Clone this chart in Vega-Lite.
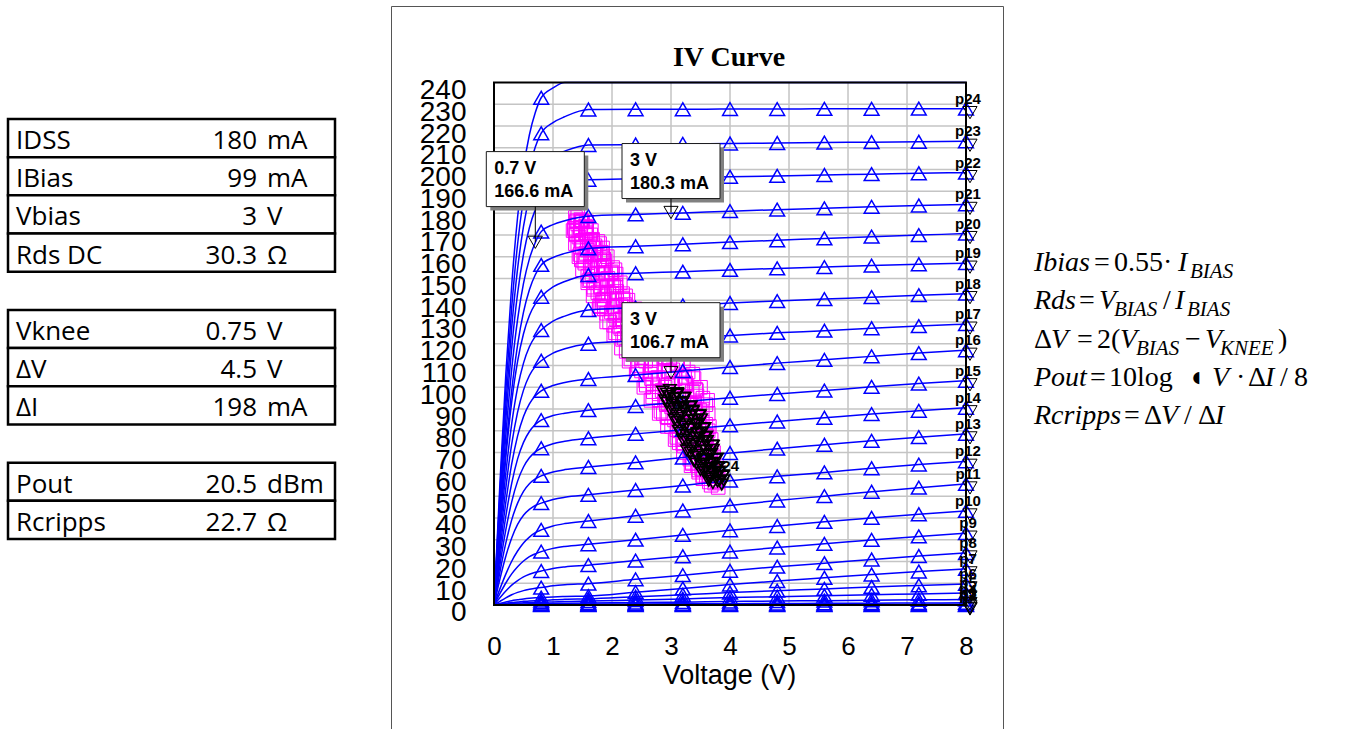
{
"$schema":"https://vega.github.io/schema/vega-lite/v6.json",
"background":"white",
"padding":{"left":0,"top":5,"right":0,"bottom":0},
"spacing":0,
"config":{"view":{"stroke":null},"font":"Liberation Sans","axis":{"labelColor":"black","titleColor":"black","labelFont":"Liberation Sans","titleFont":"Liberation Sans"}},
"datasets":{
"tables":[{"row":0,"label":"IDSS","num":"180","unit":"mA"},{"row":1,"label":"IBias","num":"99","unit":"mA"},{"row":2,"label":"Vbias","num":"3","unit":"V"},{"row":3,"label":"Rds DC","num":"30.3","unit":"Ω"},{"row":5,"label":"Vknee","num":"0.75","unit":"V"},{"row":6,"label":"ΔV","num":"4.5","unit":"V"},{"row":7,"label":"ΔI","num":"198","unit":"mA"},{"row":9,"label":"Pout","num":"20.5","unit":"dBm"},{"row":10,"label":"Rcripps","num":"22.7","unit":"Ω"}],
"gridV":[{"v":1},{"v":2},{"v":3},{"v":4},{"v":5},{"v":6},{"v":7}],
"gridH":[{"i":10},{"i":20},{"i":30},{"i":40},{"i":50},{"i":60},{"i":70},{"i":80},{"i":90},{"i":100},{"i":110},{"i":120},{"i":130},{"i":140},{"i":150},{"i":160},{"i":170},{"i":180},{"i":190},{"i":200},{"i":210},{"i":220},{"i":230}],
"curves":[
{"c":"p25","v":[0,0.1,0.2,0.3,0.4,0.5,0.6,0.7,0.8,1,1.2,1.6,2.4,3.2,4,4.8,5.6,6.4,7.2,8],"i":[0,55.7,105.8,147.0,178.2,200.6,216.0,226.2,233,237.5,240,240,240,240,240,240,240,240,240,240]},
{"c":"p24","v":[0,0.1,0.2,0.3,0.4,0.5,0.6,0.7,0.8,1,1.2,1.6,2.4,3.2,4,4.8,5.6,6.4,7.2,8],"i":[0,51.8,98.4,136.7,165.8,186.6,200.9,210.4,216.7,221.6,224.3,227.6,227.7,227.7,227.8,227.8,227.9,227.9,228.0,228.0]},
{"c":"p23","v":[0,0.1,0.2,0.3,0.4,0.5,0.6,0.7,0.8,1,1.2,1.6,2.4,3.2,4,4.8,5.6,6.4,7.2,8],"i":[0,48.3,91.7,127.5,154.5,173.9,187.3,196.1,202,206.2,208.5,211.3,211.5,211.8,212.0,212.2,212.4,212.6,212.8,213]},
{"c":"p22","v":[0,0.1,0.2,0.3,0.4,0.5,0.6,0.7,0.8,1,1.2,1.6,2.4,3.2,4,4.8,5.6,6.4,7.2,8],"i":[0,44.7,84.9,118.0,143.1,161.0,173.3,181.6,187,190.7,192.8,195.3,195.8,196.2,196.7,197.1,197.5,197.9,198.3,198.6]},
{"c":"p21","v":[0,0.1,0.2,0.3,0.4,0.5,0.6,0.7,0.8,1,1.2,1.6,2.4,3.2,4,4.8,5.6,6.4,7.2,8],"i":[0,41.0,77.9,108.2,131.2,147.7,159.0,166.5,171.5,174.7,176.5,178.6,179.4,180.1,180.9,181.6,182.2,182.9,183.5,184]},
{"c":"p20","v":[0,0.1,0.2,0.3,0.4,0.5,0.6,0.7,0.8,1,1.2,1.6,2.4,3.2,4,4.8,5.6,6.4,7.2,8],"i":[0,37.3,70.9,98.6,119.5,134.5,144.8,151.7,156.2,159.6,161.5,163.8,164.8,165.7,166.7,167.5,168.4,169.2,169.9,170.6]},
{"c":"p19","v":[0,0.1,0.2,0.3,0.4,0.5,0.6,0.7,0.8,1,1.2,1.6,2.4,3.2,4,4.8,5.6,6.4,7.2,8],"i":[0,36.0,67.8,93.3,111.9,124.6,133.0,138.3,141.6,146.1,148.6,151.6,152.4,153.1,153.9,154.6,155.2,155.9,156.5,157]},
{"c":"p18","v":[0,0.1,0.2,0.3,0.4,0.5,0.6,0.7,0.8,1,1.2,1.6,2.4,3.2,4,4.8,5.6,6.4,7.2,8],"i":[0,32.1,60.5,83.2,99.8,111.1,118.6,123.4,126.3,130.4,132.7,135.5,136.6,137.6,138.7,139.6,140.5,141.4,142.3,143]},
{"c":"p17","v":[0,0.1,0.2,0.3,0.4,0.5,0.6,0.7,0.8,1,1.2,1.6,2.4,3.2,4,4.8,5.6,6.4,7.2,8],"i":[0,28.5,53.7,73.9,88.6,98.7,105.4,109.6,112.2,115.7,117.7,120,121.3,122.5,123.8,125.0,126.0,127.1,128.1,129]},
{"c":"p16","v":[0,0.1,0.2,0.3,0.4,0.5,0.6,0.7,0.8,1,1.2,1.6,2.4,3.2,4,4.8,5.6,6.4,7.2,8],"i":[0,25.0,47.1,64.8,77.7,86.6,92.4,96.1,98.4,100.8,102.2,103.8,105.6,107.5,109.3,111.1,112.6,114.2,115.7,117]},
{"c":"p15","v":[0,0.1,0.2,0.3,0.4,0.5,0.6,0.7,0.8,1,1.2,1.6,2.4,3.2,4,4.8,5.6,6.4,7.2,8],"i":[0,21.6,40.7,55.9,67.1,74.7,79.7,82.9,84.9,87.0,88.1,89.5,91.4,93.3,95.2,96.9,98.5,100.2,101.7,103]},
{"c":"p14","v":[0,0.1,0.2,0.3,0.4,0.5,0.6,0.7,0.8,1,1.2,1.6,2.4,3.2,4,4.8,5.6,6.4,7.2,8],"i":[0,18.3,34.5,47.4,56.9,63.4,67.6,70.3,72,74.1,75.2,76.6,78.6,80.5,82.5,84.3,86.0,87.7,89.2,90.6]},
{"c":"p13","v":[0,0.1,0.2,0.3,0.4,0.5,0.6,0.7,0.8,1,1.2,1.6,2.4,3.2,4,4.8,5.6,6.4,7.2,8],"i":[0,15.1,28.4,39.1,46.8,52.2,55.7,57.9,59.3,61.1,62.2,63.4,65.5,67.7,69.8,71.8,73.6,75.4,77.1,78.6]},
{"c":"p12","v":[0,0.1,0.2,0.3,0.4,0.5,0.6,0.7,0.8,1,1.2,1.6,2.4,3.2,4,4.8,5.6,6.4,7.2,8],"i":[0,11.9,22.4,30.8,37.0,41.2,43.9,45.7,46.8,48.5,49.5,50.6,52.8,54.9,57.1,59.1,60.9,62.8,64.5,66]},
{"c":"p11","v":[0,0.1,0.2,0.3,0.4,0.5,0.6,0.7,0.8,1,1.2,1.6,2.4,3.2,4,4.8,5.6,6.4,7.2,8],"i":[0,7.4,14.2,20.1,24.8,28.5,31.2,33.2,34.5,36.3,37.4,38.6,41.0,43.4,45.7,48.0,50.0,52.0,53.9,55.6]},
{"c":"p10","v":[0,0.1,0.2,0.3,0.4,0.5,0.6,0.7,0.8,1,1.2,1.6,2.4,3.2,4,4.8,5.6,6.4,7.2,8],"i":[0,5.2,10.1,14.3,17.6,20.2,22.2,23.5,24.5,26.0,26.9,27.9,30.0,32.2,34.3,36.3,38.2,40.0,41.7,43.2]},
{"c":"p9","v":[0,0.1,0.2,0.3,0.4,0.5,0.6,0.7,0.8,1,1.2,1.6,2.4,3.2,4,4.8,5.6,6.4,7.2,8],"i":[0,3.3,6.4,9.1,11.2,12.9,14.1,15.0,15.6,16.8,17.5,18.3,20.4,22.4,24.5,26.4,28.1,29.9,31.5,33]},
{"c":"p8","v":[0,0.1,0.2,0.3,0.4,0.5,0.6,0.7,0.8,1,1.2,1.6,2.4,3.2,4,4.8,5.6,6.4,7.2,8],"i":[0,1.7,3.3,4.7,5.8,6.6,7.2,7.7,8.0,8.8,9.3,9.8,11.8,13.7,15.7,17.6,19.2,20.9,22.5,23.9]},
{"c":"p7","v":[0,0.1,0.2,0.3,0.4,0.5,0.6,0.7,0.8,1,1.2,1.6,2.4,3.2,4,4.8,5.6,6.4,7.2,8],"i":[0,0.7,1.4,2.0,2.4,2.8,3.1,3.3,3.4,3.7,3.9,4.1,5.9,7.6,9.4,11.0,12.5,14.0,15.4,16.6]},
{"c":"p6","v":[0,0.1,0.2,0.3,0.4,0.5,0.6,0.7,0.8,1,1.2,1.6,2.4,3.2,4,4.8,5.6,6.4,7.2,8],"i":[0,0.4,0.8,1.2,1.4,1.7,1.8,1.9,2.0,2.4,2.6,2.8,3.8,4.7,5.7,6.6,7.4,8.3,9.0,9.7]},
{"c":"p5","v":[0,0.1,0.2,0.3,0.4,0.5,0.6,0.7,0.8,1,1.2,1.6,2.4,3.2,4,4.8,5.6,6.4,7.2,8],"i":[0,0.3,0.5,0.7,0.9,1.0,1.1,1.15,1.2,1.4,1.6,1.8,2.3,2.8,3.4,3.8,4.3,4.7,5.1,5.5]},
{"c":"p4","v":[0,0.1,0.2,0.3,0.4,0.5,0.6,0.7,0.8,1,1.2,1.6,2.4,3.2,4,4.8,5.6,6.4,7.2,8],"i":[0,0.1,0.25,0.35,0.45,0.5,0.55,0.58,0.6,0.7,0.8,0.9,1.1,1.3,1.6,1.8,2.0,2.2,2.4,2.5]},
{"c":"p3","v":[0,0.1,0.2,0.3,0.4,0.5,0.6,0.7,0.8,1,1.2,1.6,2.4,3.2,4,4.8,5.6,6.4,7.2,8],"i":[0,0.06,0.12,0.18,0.22,0.25,0.27,0.29,0.3,0.33,0.36,0.4,0.48,0.55,0.62,0.7,0.78,0.85,0.93,1.0]},
{"c":"p2","v":[0,0.1,0.2,0.3,0.4,0.5,0.6,0.7,0.8,1,1.2,1.6,2.4,3.2,4,4.8,5.6,6.4,7.2,8],"i":[0,0.02,0.04,0.06,0.07,0.08,0.09,0.1,0.1,0.11,0.12,0.13,0.15,0.17,0.19,0.21,0.23,0.25,0.28,0.3]},
{"c":"p1","v":[0,0.1,0.2,0.3,0.4,0.5,0.6,0.7,0.8,1,1.2,1.6,2.4,3.2,4,4.8,5.6,6.4,7.2,8],"i":[0,0,0,0,0,0,0,0,0,0,0,0,0,0,0,0,0,0,0,0]}
],
"mag":[
{"v":1.38,"i":178},{"v":1.42,"i":179},{"v":1.47,"i":177},
{"v":1.42,"i":175},{"v":1.50,"i":176},{"v":1.55,"i":174},
{"v":1.37,"i":172},{"v":1.47,"i":173},{"v":1.56,"i":171},
{"v":1.44,"i":169},{"v":1.56,"i":170},{"v":1.67,"i":168},
{"v":1.42,"i":166},{"v":1.58,"i":167},{"v":1.71,"i":165},
{"v":1.58,"i":163},{"v":1.73,"i":164},{"v":1.82,"i":162},
{"v":1.54,"i":160},{"v":1.72,"i":161},{"v":1.86,"i":159},
{"v":1.54,"i":157},{"v":1.71,"i":158},{"v":1.87,"i":156},
{"v":1.67,"i":154},{"v":1.86,"i":155},{"v":1.99,"i":153},
{"v":1.59,"i":151},{"v":1.76,"i":152},{"v":1.93,"i":150},
{"v":1.73,"i":148},{"v":1.90,"i":149},{"v":2.06,"i":147},
{"v":1.69,"i":145},{"v":1.91,"i":146},{"v":2.08,"i":144},
{"v":1.88,"i":142},{"v":2.08,"i":143},{"v":2.18,"i":141},
{"v":1.84,"i":139},{"v":2.05,"i":140},{"v":2.22,"i":138},
{"v":1.87,"i":136},{"v":2.06,"i":137},{"v":2.25,"i":135},
{"v":2.05,"i":133},{"v":2.27,"i":134},{"v":2.43,"i":132},
{"v":1.96,"i":130},{"v":2.18,"i":131},{"v":2.40,"i":129},
{"v":2.15,"i":127},{"v":2.38,"i":128},{"v":2.60,"i":126},
{"v":2.11,"i":124},{"v":2.42,"i":125},{"v":2.66,"i":123},
{"v":2.40,"i":121},{"v":2.69,"i":122},{"v":2.84,"i":120},
{"v":2.33,"i":118},{"v":2.65,"i":119},{"v":2.90,"i":117},
{"v":2.35,"i":115},{"v":2.63,"i":116},{"v":2.91,"i":114},
{"v":2.57,"i":112},{"v":2.88,"i":113},{"v":3.11,"i":111},
{"v":2.43,"i":109},{"v":2.73,"i":110},{"v":3.03,"i":108},
{"v":2.65,"i":106},{"v":2.95,"i":107},{"v":3.23,"i":105},
{"v":2.57,"i":103},{"v":2.95,"i":104},{"v":3.25,"i":102},
{"v":2.90,"i":100},{"v":3.24,"i":101},{"v":3.42,"i":99},
{"v":2.80,"i":97},{"v":3.16,"i":98},{"v":3.44,"i":96},
{"v":2.80,"i":94},{"v":3.10,"i":95},{"v":3.40,"i":93},
{"v":3.01,"i":91},{"v":3.31,"i":92},{"v":3.53,"i":90},
{"v":2.87,"i":88},{"v":3.13,"i":89},{"v":3.39,"i":87},
{"v":3.06,"i":85},{"v":3.30,"i":86},{"v":3.53,"i":84},
{"v":3.01,"i":82},{"v":3.29,"i":83},{"v":3.51,"i":81},
{"v":3.25,"i":79},{"v":3.48,"i":80},{"v":3.60,"i":78},
{"v":3.20,"i":76},{"v":3.43,"i":77},{"v":3.60,"i":75},
{"v":3.22,"i":73},{"v":3.40,"i":74},{"v":3.57,"i":72},
{"v":3.37,"i":70},{"v":3.54,"i":71},{"v":3.67,"i":69},
{"v":3.32,"i":67},{"v":3.46,"i":68},{"v":3.61,"i":66},
{"v":3.45,"i":64},{"v":3.58,"i":65},{"v":3.70,"i":63},
{"v":3.47,"i":61},{"v":3.61,"i":62},{"v":3.72,"i":60},
{"v":3.64,"i":58},{"v":3.73,"i":59},{"v":3.78,"i":57},
{"v":3.68,"i":55},{"v":3.74,"i":56},{"v":3.80,"i":54},
{"v":1.40,"i":176.5},{"v":1.48,"i":176.5},{"v":1.46,"i":173.5},{"v":1.57,"i":173.5},
{"v":1.39,"i":170.5},{"v":1.55,"i":170.5},{"v":1.50,"i":167.5},{"v":1.67,"i":167.5},
{"v":1.62,"i":164.5},{"v":1.47,"i":164.5},{"v":1.56,"i":161.5},{"v":1.84,"i":161.5},
{"v":1.48,"i":158.5},{"v":1.79,"i":158.5},{"v":1.63,"i":155.5},{"v":1.85,"i":155.5},
{"v":1.76,"i":152.5},{"v":1.98,"i":152.5},{"v":1.63,"i":149.5},{"v":1.90,"i":149.5},
{"v":1.80,"i":146.5},{"v":2.03,"i":146.5},{"v":1.94,"i":143.5},{"v":1.76,"i":143.5},
{"v":1.86,"i":140.5},{"v":2.19,"i":140.5},{"v":1.79,"i":137.5},{"v":2.15,"i":137.5},
{"v":1.99,"i":134.5},{"v":2.25,"i":134.5},{"v":2.17,"i":131.5},{"v":2.44,"i":131.5},
{"v":2.03,"i":128.5},{"v":2.37,"i":128.5},{"v":2.27,"i":125.5},{"v":2.58,"i":125.5},
{"v":2.48,"i":122.5},{"v":2.21,"i":122.5},{"v":2.37,"i":119.5},{"v":2.87,"i":119.5},
{"v":2.24,"i":116.5},{"v":2.77,"i":116.5},{"v":2.50,"i":113.5},{"v":2.88,"i":113.5},
{"v":2.73,"i":110.5},{"v":3.10,"i":110.5},{"v":2.50,"i":107.5},{"v":2.96,"i":107.5},
{"v":2.78,"i":104.5},{"v":3.18,"i":104.5},{"v":3.01,"i":101.5},{"v":2.69,"i":101.5},
{"v":2.85,"i":98.5},{"v":3.43,"i":98.5},{"v":2.69,"i":95.5},{"v":3.27,"i":95.5},
{"v":2.95,"i":92.5},{"v":3.33,"i":92.5},{"v":3.14,"i":89.5},{"v":3.49,"i":89.5},
{"v":2.93,"i":86.5},{"v":3.32,"i":86.5},{"v":3.17,"i":83.5},{"v":3.47,"i":83.5},
{"v":3.32,"i":80.5},{"v":3.10,"i":80.5},{"v":3.22,"i":77.5},{"v":3.60,"i":77.5},
{"v":3.14,"i":74.5},{"v":3.49,"i":74.5},{"v":3.32,"i":71.5},{"v":3.54,"i":71.5},
{"v":3.46,"i":68.5},{"v":3.65,"i":68.5},{"v":3.36,"i":65.5},{"v":3.58,"i":65.5},
{"v":3.52,"i":62.5},{"v":3.68,"i":62.5},{"v":3.65,"i":59.5},{"v":3.54,"i":59.5},
{"v":3.65,"i":56.5},{"v":3.79,"i":56.5},
{"v":1.34,"i":172},{"v":1.65,"i":172},{"v":1.38,"i":166},{"v":1.79,"i":166},
{"v":1.44,"i":160},{"v":1.92,"i":160},{"v":1.50,"i":154},{"v":2.05,"i":154},
{"v":1.59,"i":148},{"v":2.14,"i":148},{"v":1.68,"i":142},{"v":2.23,"i":142},
{"v":1.78,"i":136},{"v":2.39,"i":136},{"v":1.91,"i":130},{"v":2.60,"i":130},
{"v":2.03,"i":124},{"v":2.81,"i":124},{"v":2.16,"i":118},{"v":3.01,"i":118},
{"v":2.29,"i":112},{"v":3.21,"i":112},{"v":2.41,"i":106},{"v":3.37,"i":106},
{"v":2.54,"i":100},{"v":3.50,"i":100},{"v":2.66,"i":94},{"v":3.62,"i":94},
{"v":2.80,"i":88},{"v":3.63,"i":88},{"v":2.94,"i":82},{"v":3.65,"i":82},
{"v":3.07,"i":76},{"v":3.68,"i":76},{"v":3.21,"i":70},{"v":3.72,"i":70},
{"v":3.34,"i":64},{"v":3.77,"i":64},{"v":3.54,"i":58},{"v":3.80,"i":58},
{"v":1.40,"i":176},{"v":1.49,"i":176},{"v":1.57,"i":176},
{"v":1.36,"i":173},{"v":1.47,"i":173},{"v":1.57,"i":173},
{"v":1.47,"i":170},{"v":1.64,"i":170},{"v":1.39,"i":170},
{"v":1.62,"i":167},{"v":1.48,"i":167},{"v":1.76,"i":167},
{"v":1.50,"i":164},{"v":1.69,"i":164},{"v":1.84,"i":164},
{"v":1.46,"i":161},{"v":1.64,"i":161},{"v":1.80,"i":161},
{"v":1.64,"i":158},{"v":1.88,"i":158},{"v":1.52,"i":158},
{"v":1.82,"i":155},{"v":1.64,"i":155},{"v":2.01,"i":155},
{"v":1.66,"i":152},{"v":1.89,"i":152},{"v":2.07,"i":152},
{"v":1.61,"i":149},{"v":1.82,"i":149},{"v":2.00,"i":149},
{"v":1.81,"i":146},{"v":2.07,"i":146},{"v":1.69,"i":146},
{"v":2.00,"i":143},{"v":1.81,"i":143},{"v":2.18,"i":143},
{"v":1.84,"i":140},{"v":2.08,"i":140},{"v":2.27,"i":140},
{"v":1.81,"i":137},{"v":2.04,"i":137},{"v":2.24,"i":137},
{"v":2.06,"i":134},{"v":2.36,"i":134},{"v":1.91,"i":134},
{"v":2.31,"i":131},{"v":2.08,"i":131},{"v":2.54,"i":131},
{"v":2.12,"i":128},{"v":2.43,"i":128},{"v":2.67,"i":128},
{"v":2.06,"i":125},{"v":2.35,"i":125},{"v":2.61,"i":125},
{"v":2.36,"i":122},{"v":2.74,"i":122},{"v":2.18,"i":122},
{"v":2.65,"i":119},{"v":2.37,"i":119},{"v":2.94,"i":119},
{"v":2.41,"i":116},{"v":2.78,"i":116},{"v":3.07,"i":116},
{"v":2.32,"i":113},{"v":2.67,"i":113},{"v":2.98,"i":113},
{"v":2.67,"i":110},{"v":3.11,"i":110},{"v":2.45,"i":110},
{"v":2.97,"i":107},{"v":2.65,"i":107},{"v":3.29,"i":107},
{"v":2.67,"i":104},{"v":3.07,"i":104},{"v":3.39,"i":104},
{"v":2.58,"i":101},{"v":2.94,"i":101},{"v":3.26,"i":101},
{"v":2.92,"i":98},{"v":3.36,"i":98},{"v":2.70,"i":98},
{"v":3.22,"i":95},{"v":2.90,"i":95},{"v":3.54,"i":95},
{"v":2.92,"i":92},{"v":3.29,"i":92},{"v":3.59,"i":92},
{"v":2.83,"i":89},{"v":3.15,"i":89},{"v":3.42,"i":89},
{"v":3.13,"i":86},{"v":3.48,"i":86},{"v":2.95,"i":86},
{"v":3.35,"i":83},{"v":3.11,"i":83},{"v":3.59,"i":83},
{"v":3.14,"i":80},{"v":3.41,"i":80},{"v":3.63,"i":80},
{"v":3.10,"i":77},{"v":3.32,"i":77},{"v":3.53,"i":77},
{"v":3.33,"i":74},{"v":3.58,"i":74},{"v":3.20,"i":74},
{"v":3.51,"i":71},{"v":3.34,"i":71},{"v":3.68,"i":71},
{"v":3.37,"i":68},{"v":3.57,"i":68},{"v":3.72,"i":68},
{"v":3.36,"i":65},{"v":3.52,"i":65},{"v":3.66,"i":65},
{"v":3.55,"i":62},{"v":3.71,"i":62},{"v":3.47,"i":62},
{"v":3.69,"i":59},{"v":3.60,"i":59},{"v":3.78,"i":59}
],
"blk":[
{"v":2.86,"i":98},{"v":2.98,"i":98.7},{"v":3.10,"i":97.3},
{"v":2.97,"i":96},{"v":3.11,"i":96.7},{"v":3.22,"i":95.3},
{"v":2.90,"i":94},{"v":3.05,"i":94.7},{"v":3.20,"i":93.3},
{"v":3.02,"i":92},{"v":3.18,"i":92.7},{"v":3.34,"i":91.3},
{"v":2.98,"i":90},{"v":3.20,"i":90.7},{"v":3.37,"i":89.3},
{"v":3.17,"i":88},{"v":3.37,"i":88.7},{"v":3.48,"i":87.3},
{"v":3.12,"i":86},{"v":3.34,"i":86.7},{"v":3.51,"i":85.3},
{"v":3.11,"i":84},{"v":3.29,"i":84.7},{"v":3.47,"i":83.3},
{"v":3.24,"i":82},{"v":3.43,"i":82.7},{"v":3.57,"i":81.3},
{"v":3.13,"i":80},{"v":3.31,"i":80.7},{"v":3.49,"i":79.3},
{"v":3.26,"i":78},{"v":3.44,"i":78.7},{"v":3.60,"i":77.3},
{"v":3.20,"i":76},{"v":3.43,"i":76.7},{"v":3.61,"i":75.3},
{"v":3.39,"i":74},{"v":3.59,"i":74.7},{"v":3.70,"i":73.3},
{"v":3.33,"i":72},{"v":3.54,"i":72.7},{"v":3.71,"i":71.3},
{"v":3.33,"i":70},{"v":3.50,"i":70.7},{"v":3.68,"i":69.3},
{"v":3.46,"i":68},{"v":3.64,"i":68.7},{"v":3.78,"i":67.3},
{"v":3.39,"i":66},{"v":3.54,"i":66.7},{"v":3.70,"i":65.3},
{"v":3.51,"i":64},{"v":3.66,"i":64.7},{"v":3.80,"i":63.3},
{"v":3.50,"i":62},{"v":3.67,"i":62.7},{"v":3.81,"i":61.3},
{"v":3.66,"i":60},{"v":3.80,"i":60.7},{"v":3.88,"i":59.3},
{"v":3.65,"i":58},{"v":3.78,"i":58.7},{"v":3.89,"i":57.3},
{"v":3.71,"i":56},{"v":3.79,"i":56.7},{"v":3.86,"i":55.3},
{"v":2.93,"i":97},{"v":3.10,"i":97},{"v":3.05,"i":95},{"v":3.23,"i":95},
{"v":2.94,"i":93},{"v":3.18,"i":93},{"v":3.10,"i":91},{"v":3.32,"i":91},
{"v":3.23,"i":89},{"v":3.05,"i":89},{"v":3.15,"i":87},{"v":3.49,"i":87},
{"v":3.06,"i":85},{"v":3.40,"i":85},{"v":3.20,"i":83},{"v":3.44,"i":83},
{"v":3.32,"i":81},{"v":3.55,"i":81},{"v":3.17,"i":79},{"v":3.45,"i":79},
{"v":3.33,"i":77},{"v":3.57,"i":77},{"v":3.46,"i":75},{"v":3.27,"i":75},
{"v":3.36,"i":73},{"v":3.71,"i":73},{"v":3.27,"i":71},{"v":3.60,"i":71},
{"v":3.42,"i":69},{"v":3.65,"i":69},{"v":3.55,"i":67},{"v":3.75,"i":67},
{"v":3.43,"i":65},{"v":3.66,"i":65},{"v":3.58,"i":63},{"v":3.77,"i":63},
{"v":3.70,"i":61},{"v":3.56,"i":61},{"v":3.65,"i":59},{"v":3.88,"i":59},
{"v":3.64,"i":57},{"v":3.82,"i":57}
],
"ann":[{"v":0.7,"i":166.6,"ly":183.0,"l1":"0.7 V","l2":"166.6 mA"},{"v":3,"i":180.3,"ly":186.7,"l1":"3 V","l2":"180.3 mA"},{"v":3,"i":106.7,"ly":113.6,"l1":"3 V","l2":"106.7 mA"}],
"fIt":[{"L":1,"x":0,"t":"Ibias"},{"L":1,"x":144,"t":"I"},{"L":2,"x":0,"t":"Rds"},{"L":2,"x":65,"t":"V"},{"L":2,"x":141,"t":"I"},{"L":3,"x":17,"t":"V"},{"L":3,"x":86,"t":"V"},{"L":3,"x":171,"t":"V"},{"L":4,"x":0,"t":"Pout"},{"L":4,"x":178,"t":"V"},{"L":4,"x":231,"t":"I"},{"L":5,"x":0,"t":"Rcripps"},{"L":5,"x":127,"t":"V"},{"L":5,"x":181,"t":"I"}],
"fRm":[{"L":1,"x":60,"t":"="},{"L":1,"x":80,"t":"0.55·"},{"L":2,"x":45,"t":"="},{"L":2,"x":129,"t":"/"},{"L":3,"x":0,"t":"Δ"},{"L":3,"x":43,"t":"="},{"L":3,"x":63,"t":"2("},{"L":3,"x":151,"t":"−"},{"L":3,"x":244,"t":")"},{"L":4,"x":56,"t":"="},{"L":4,"x":75,"t":"10log"},{"L":4,"x":154,"t":"◖"},{"L":4,"x":202,"t":"·"},{"L":4,"x":214,"t":"Δ"},{"L":4,"x":246,"t":"/"},{"L":4,"x":260,"t":"8"},{"L":5,"x":90,"t":"="},{"L":5,"x":110,"t":"Δ"},{"L":5,"x":150,"t":"/"},{"L":5,"x":164,"t":"Δ"}],
"fSub":[{"L":1,"x":156,"t":"BIAS"},{"L":2,"x":80,"t":"BIAS"},{"L":2,"x":153,"t":"BIAS"},{"L":3,"x":102,"t":"BIAS"},{"L":3,"x":186,"t":"KNEE"}]
},
"hconcat":[
{
"width":390,"height":723,
"data":{"name":"tables"},
"layer":[
{"mark":{"type":"rect","fill":"white","stroke":"black","strokeWidth":2.5},
"encoding":{"y":{"field":"row","type":"ordinal","scale":{"type":"band","domain":[0,1,2,3,4,5,6,7,8,9,10],"range":[113,533],"paddingInner":0,"paddingOuter":0},"axis":null},
"x":{"datum":0,"type":"quantitative","scale":{"domain":[0,1],"range":[8,335]},"axis":null},"x2":{"datum":1}}},
{"mark":{"type":"text","align":"left","baseline":"middle","dx":8,"dy":3,"font":"Open Sans","fontSize":26,"color":"black"},
"encoding":{"y":{"field":"row","type":"ordinal"},"x":{"datum":0,"type":"quantitative"},"text":{"field":"label"}}},
{"mark":{"type":"text","align":"right","baseline":"middle","dy":3,"font":"Open Sans","fontSize":26,"color":"black"},
"encoding":{"y":{"field":"row","type":"ordinal"},"x":{"datum":0.7615,"type":"quantitative"},"text":{"field":"num"}}},
{"mark":{"type":"text","align":"left","baseline":"middle","dy":3,"font":"Open Sans","fontSize":26,"color":"black"},
"encoding":{"y":{"field":"row","type":"ordinal"},"x":{"datum":0.792,"type":"quantitative"},"text":{"field":"unit"}}}
]
},
{
"width":612,"height":723,
"view":{"stroke":"#555555","strokeWidth":1},
"title":{"text":"IV Curve","font":"Liberation Serif","fontSize":28,"fontWeight":"bold","color":"black","anchor":"middle","frame":"group","offset":-88,"dx":32,"baseline":"alphabetic"},
"resolve":{"scale":{"x":"shared","y":"shared"},"axis":{"y":"independent"}},
"layer":[
{"data":{"name":"gridV"},"mark":{"type":"rule","color":"#c4c4c4","strokeWidth":1.5},
"encoding":{"x":{"field":"v","type":"quantitative","title":"Voltage (V)","scale":{"domain":[-1.7458,8.627],"nice":false,"zero":false},
"axis":{"orient":"bottom","offset":-124,"values":[0,1,2,3,4,5,6,7,8],"format":"d","ticks":false,"tickSize":0,"domain":false,"grid":false,"labelFontSize":26,"labelPadding":41,"labelBaseline":"middle","labelOverlap":false,"labelFlush":false,"labelBound":false,"titleFontSize":27,"titleFontWeight":"normal","titleX":338,"titleY":57,"titleBaseline":"top","titleAlign":"center"}},
"y":{"datum":0,"type":"quantitative","scale":{"domain":[-56.96,275.14],"nice":false,"zero":false},"axis":null},"y2":{"datum":240}}},
{"data":{"name":"gridH"},"mark":{"type":"rule","color":"#c4c4c4","strokeWidth":1.5},
"encoding":{"y":{"field":"i","type":"quantitative","title":null,"scale":{"domain":[-56.96,275.14],"nice":false,"zero":false},
"axis":{"orient":"left","offset":-103,"values":[0,20,40,60,80,100,120,140,160,180,200,220,240],"format":"d","ticks":false,"tickSize":0,"domain":false,"grid":false,"labelFontSize":28,"labelPadding":28,"labelOffset":8,"labelBaseline":"middle","labelOverlap":false,"labelFlush":false,"labelBound":false}},
"x":{"datum":0,"type":"quantitative","scale":{"domain":[-1.7458,8.627],"nice":false,"zero":false}},"x2":{"datum":8}}},
{"data":{"name":"mag"},"mark":{"type":"point","shape":"square","size":185,"filled":false,"color":"#ff00ff","strokeWidth":1,"opacity":1},
"encoding":{"x":{"field":"v","type":"quantitative","title":"Voltage (V)","scale":{"domain":[-1.7458,8.627],"nice":false,"zero":false}},"y":{"field":"i","type":"quantitative","title":null,"scale":{"domain":[-56.96,275.14],"nice":false,"zero":false},
"axis":{"orient":"left","offset":-103,"values":[10,30,50,70,90,110,130,150,170,190,210,230],"format":"d","ticks":false,"tickSize":0,"domain":false,"grid":false,"labelFontSize":28,"labelPadding":28,"labelOffset":8,"labelBaseline":"middle","labelOverlap":false,"labelFlush":false,"labelBound":false}}}},
{"data":{"name":"curves"},"transform":[{"flatten":["v","i"]}],"mark":{"type":"line","color":"#0000ff","strokeWidth":1.5,"interpolate":"monotone"},
"encoding":{"x":{"field":"v","type":"quantitative","title":"Voltage (V)","scale":{"domain":[-1.7458,8.627],"nice":false,"zero":false}},"y":{"field":"i","type":"quantitative","title":null,"scale":{"domain":[-56.96,275.14],"nice":false,"zero":false},"axis":null},"detail":{"field":"c"}}},
{"data":{"name":"curves"},"transform":[{"flatten":["v","i"]},{"filter":{"field":"v","oneOf":[0.8,1.6,2.4,3.2,4,4.8,5.6,6.4,7.2,8]}},{"filter":"datum.i < 239.9"}],
"mark":{"type":"point","shape":"triangle-up","size":220,"filled":false,"color":"#0000ff","strokeWidth":1.5,"opacity":1},
"encoding":{"x":{"field":"v","type":"quantitative","title":"Voltage (V)","scale":{"domain":[-1.7458,8.627],"nice":false,"zero":false}},"y":{"field":"i","type":"quantitative","title":null,"scale":{"domain":[-56.96,275.14],"nice":false,"zero":false},"axis":null}}},
{"data":{"name":"blk"},"mark":{"type":"point","shape":"triangle-down","size":150,"filled":false,"color":"black","strokeWidth":1.6,"opacity":1},
"encoding":{"x":{"field":"v","type":"quantitative","title":"Voltage (V)","scale":{"domain":[-1.7458,8.627],"nice":false,"zero":false}},"y":{"field":"i","type":"quantitative","title":null,"scale":{"domain":[-56.96,275.14],"nice":false,"zero":false},"axis":null}}},
{"data":{"name":"curves"},"transform":[{"flatten":["v","i"]},{"filter":"datum.v == 8 && datum.c != 'p25'"}],
"mark":{"type":"point","shape":"triangle-down","size":200,"filled":false,"color":"black","strokeWidth":1,"opacity":1,"xOffset":4,"yOffset":4},
"encoding":{"x":{"field":"v","type":"quantitative","title":"Voltage (V)","scale":{"domain":[-1.7458,8.627],"nice":false,"zero":false}},"y":{"field":"i","type":"quantitative","title":null,"scale":{"domain":[-56.96,275.14],"nice":false,"zero":false},"axis":null}}},
{"data":{"name":"curves"},"transform":[{"flatten":["v","i"]},{"filter":"datum.v == 8 && datum.c != 'p25'"}],
"mark":{"type":"text","align":"center","baseline":"alphabetic","dx":2,"dy":-5,"fontSize":15,"fontWeight":"bold","color":"black"},
"encoding":{"x":{"field":"v","type":"quantitative","title":"Voltage (V)","scale":{"domain":[-1.7458,8.627],"nice":false,"zero":false}},"y":{"field":"i","type":"quantitative","title":null,"scale":{"domain":[-56.96,275.14],"nice":false,"zero":false},"axis":null},"text":{"field":"c"}}},
{"data":{"values":[{"v":3.9,"i":58,"t":"p24"}]},
"mark":{"type":"text","align":"center","baseline":"alphabetic","dx":2,"dy":-8,"fontSize":15,"fontWeight":"bold","color":"black"},
"encoding":{"x":{"field":"v","type":"quantitative","title":"Voltage (V)","scale":{"domain":[-1.7458,8.627],"nice":false,"zero":false}},"y":{"field":"i","type":"quantitative","title":null,"scale":{"domain":[-56.96,275.14],"nice":false,"zero":false},"axis":null},"text":{"field":"t"}}},
{"data":{"values":[{}]},"mark":{"type":"rect","filled":false,"color":"black","strokeWidth":2},
"encoding":{"x":{"datum":0,"type":"quantitative","scale":{"domain":[-1.7458,8.627],"nice":false,"zero":false}},"x2":{"datum":8},"y":{"datum":0,"type":"quantitative","scale":{"domain":[-56.96,275.14],"nice":false,"zero":false},"axis":null},"y2":{"datum":240}}},
{"data":{"name":"ann"},"mark":{"type":"rect","fill":"#808080","xOffset":-45,"x2Offset":53,"yOffset":-51,"y2Offset":4},
"encoding":{"x":{"field":"v","type":"quantitative","title":"Voltage (V)","scale":{"domain":[-1.7458,8.627],"nice":false,"zero":false}},"x2":{"field":"v"},"y":{"field":"ly","type":"quantitative","title":null,"scale":{"domain":[-56.96,275.14],"nice":false,"zero":false},"axis":null},"y2":{"field":"ly"}}},
{"data":{"name":"ann"},"mark":{"type":"rect","fill":"white","stroke":"#1a1a1a","strokeWidth":1,"xOffset":-49,"x2Offset":49,"yOffset":-55,"y2Offset":0},
"encoding":{"x":{"field":"v","type":"quantitative","title":"Voltage (V)","scale":{"domain":[-1.7458,8.627],"nice":false,"zero":false}},"x2":{"field":"v"},"y":{"field":"ly","type":"quantitative","title":null,"scale":{"domain":[-56.96,275.14],"nice":false,"zero":false},"axis":null},"y2":{"field":"ly"}}},
{"data":{"name":"ann"},"mark":{"type":"rule","color":"black","strokeWidth":1},
"encoding":{"x":{"field":"v","type":"quantitative","title":"Voltage (V)","scale":{"domain":[-1.7458,8.627],"nice":false,"zero":false}},"y":{"field":"ly","type":"quantitative","title":null,"scale":{"domain":[-56.96,275.14],"nice":false,"zero":false},"axis":null},"y2":{"field":"i"}}},
{"data":{"name":"ann"},"mark":{"type":"point","shape":"triangle-down","size":200,"filled":false,"color":"black","strokeWidth":1,"opacity":1},
"encoding":{"x":{"field":"v","type":"quantitative","title":"Voltage (V)","scale":{"domain":[-1.7458,8.627],"nice":false,"zero":false}},"y":{"field":"i","type":"quantitative","title":null,"scale":{"domain":[-56.96,275.14],"nice":false,"zero":false},"axis":null}}},
{"data":{"name":"ann"},"mark":{"type":"text","align":"left","baseline":"middle","dx":-41,"dy":-38,"fontSize":18,"fontWeight":"bold","color":"black"},
"encoding":{"x":{"field":"v","type":"quantitative","title":"Voltage (V)","scale":{"domain":[-1.7458,8.627],"nice":false,"zero":false}},"y":{"field":"ly","type":"quantitative","title":null,"scale":{"domain":[-56.96,275.14],"nice":false,"zero":false},"axis":null},"text":{"field":"l1"}}},
{"data":{"name":"ann"},"mark":{"type":"text","align":"left","baseline":"middle","dx":-41,"dy":-15,"fontSize":18,"fontWeight":"bold","color":"black"},
"encoding":{"x":{"field":"v","type":"quantitative","title":"Voltage (V)","scale":{"domain":[-1.7458,8.627],"nice":false,"zero":false}},"y":{"field":"ly","type":"quantitative","title":null,"scale":{"domain":[-56.96,275.14],"nice":false,"zero":false},"axis":null},"text":{"field":"l2"}}}
]
},
{
"width":345,"height":723,
"layer":[
{"data":{"name":"fIt"},"mark":{"type":"text","align":"left","baseline":"alphabetic","font":"Liberation Serif","fontStyle":"italic","fontSize":28,"color":"black"},
"encoding":{"x":{"field":"x","type":"quantitative","scale":{"domain":[0,300],"range":[30,330]},"axis":null},"y":{"field":"L","type":"quantitative","scale":{"domain":[1,5],"range":[265,418]},"axis":null},"text":{"field":"t"}}},
{"data":{"name":"fRm"},"mark":{"type":"text","align":"left","baseline":"alphabetic","font":"Liberation Serif","fontSize":28,"color":"black"},
"encoding":{"x":{"field":"x","type":"quantitative","scale":{"domain":[0,300],"range":[30,330]},"axis":null},"y":{"field":"L","type":"quantitative","scale":{"domain":[1,5],"range":[265,418]},"axis":null},"text":{"field":"t"}}},
{"data":{"name":"fSub"},"mark":{"type":"text","align":"left","baseline":"alphabetic","dy":7,"font":"Liberation Serif","fontStyle":"italic","fontSize":21,"color":"black"},
"encoding":{"x":{"field":"x","type":"quantitative","scale":{"domain":[0,300],"range":[30,330]},"axis":null},"y":{"field":"L","type":"quantitative","scale":{"domain":[1,5],"range":[265,418]},"axis":null},"text":{"field":"t"}}}
]
}
]
}
